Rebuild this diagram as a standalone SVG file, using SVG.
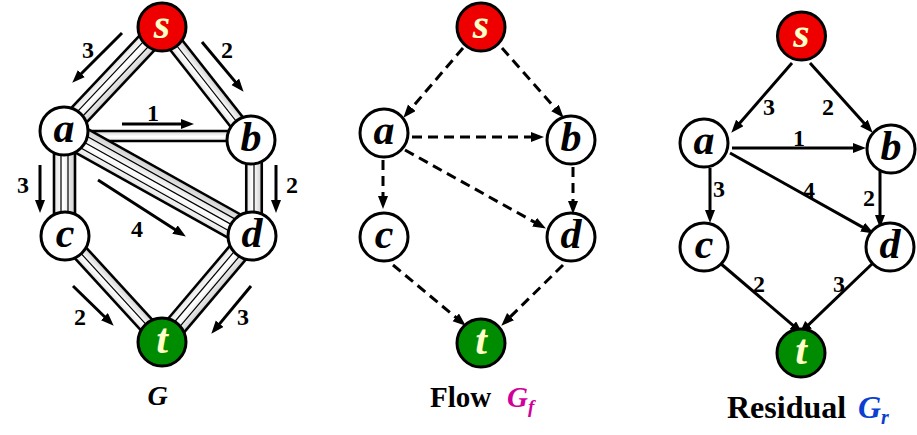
<svg xmlns="http://www.w3.org/2000/svg" width="917" height="435" viewBox="0 0 917 435">
<defs>
<linearGradient id="pipeGrad" x1="0" y1="0" x2="0" y2="1">
<stop offset="0" stop-color="#cfcfcf"/>
<stop offset="0.55" stop-color="#ffffff"/>
<stop offset="1" stop-color="#e4e4e4"/>
</linearGradient>
<marker id="ah" markerUnits="userSpaceOnUse" markerWidth="13" markerHeight="11" refX="6" refY="5" orient="auto">
<path d="M0,0 L13,5 L0,10 z" fill="#000"/>
</marker>
</defs>
<style>
.node circle{stroke:#000;stroke-width:3;fill:#fff}
.node.src circle{fill:#ee0000}
.node.snk circle{fill:#008c00}
.node text{font-family:"Liberation Serif","Times New Roman",serif;font-weight:bold;font-style:italic;font-size:42px;text-anchor:middle;fill:#000}
.node.src text,.node.snk text{fill:#ffffc8}
.pipe rect{fill:url(#pipeGrad);stroke:none}
.pipe .b{stroke:#000;stroke-width:2.6}
.pipe .l{stroke:#000;stroke-width:1.2}
.arr{stroke:#000;stroke-width:3;fill:none;marker-end:url(#ah)}
.dash{stroke-dasharray:10 6}
.num{font-family:"Liberation Serif","Times New Roman",serif;font-weight:bold;font-size:24px;text-anchor:middle;fill:#000}
.title{font-family:"Liberation Serif","Times New Roman",serif;font-weight:bold}
.it{font-style:italic}
.blk{fill:#000}
.mag{fill:#d0009a}
.blu{fill:#0a3fd0}
</style>

<!-- Panel G: pipes -->
<g id="pipes-G">
<g class="pipe" transform="translate(162,27) rotate(133.3)">
<rect x="0" y="-10.5" width="143" height="21"/>
<line class="b" x1="0" y1="-10.5" x2="143" y2="-10.5"/><line class="b" x1="0" y1="10.5" x2="143" y2="10.5"/>
<line class="l" x1="0" y1="-3.5" x2="143" y2="-3.5"/><line class="l" x1="0" y1="3.5" x2="143" y2="3.5"/>
</g>
<g class="pipe" transform="translate(162,27) rotate(51.8)">
<rect x="0" y="-7.75" width="144" height="15.5"/>
<line class="b" x1="0" y1="-7.75" x2="144" y2="-7.75"/><line class="b" x1="0" y1="7.75" x2="144" y2="7.75"/>
<line class="l" x1="0" y1="0" x2="144" y2="0"/>
</g>
<g class="pipe" transform="translate(64,136)">
<rect x="0" y="-5" width="187" height="10"/>
<line class="b" x1="0" y1="-5" x2="187" y2="-5"/><line class="b" x1="0" y1="5" x2="187" y2="5"/>
</g>
<g class="pipe" transform="translate(64.5,131) rotate(90)">
<rect x="0" y="-10.5" width="105" height="21"/>
<line class="b" x1="0" y1="-10.5" x2="105" y2="-10.5"/><line class="b" x1="0" y1="10.5" x2="105" y2="10.5"/>
<line class="l" x1="0" y1="-3.5" x2="105" y2="-3.5"/><line class="l" x1="0" y1="3.5" x2="105" y2="3.5"/>
</g>
<g class="pipe" transform="translate(254,140) rotate(90)">
<rect x="0" y="-7.75" width="96" height="15.5"/>
<line class="b" x1="0" y1="-7.75" x2="96" y2="-7.75"/><line class="b" x1="0" y1="7.75" x2="96" y2="7.75"/>
<line class="l" x1="0" y1="0" x2="96" y2="0"/>
</g>
<g class="pipe" transform="translate(64,131) rotate(29.2)">
<rect x="0" y="-13.25" width="215" height="26.5"/>
<line class="b" x1="0" y1="-13.25" x2="215" y2="-13.25"/><line class="b" x1="0" y1="13.25" x2="215" y2="13.25"/>
<line class="l" x1="0" y1="-6.6" x2="215" y2="-6.6"/><line class="l" x1="0" y1="0" x2="215" y2="0"/><line class="l" x1="0" y1="6.6" x2="215" y2="6.6"/>
</g>
<g class="pipe" transform="translate(65,236) rotate(47.5)">
<rect x="0" y="-7.75" width="144" height="15.5"/>
<line class="b" x1="0" y1="-7.75" x2="144" y2="-7.75"/><line class="b" x1="0" y1="7.75" x2="144" y2="7.75"/>
<line class="l" x1="0" y1="0" x2="144" y2="0"/>
</g>
<g class="pipe" transform="translate(252,236) rotate(130.3)">
<rect x="0" y="-10.5" width="139" height="21"/>
<line class="b" x1="0" y1="-10.5" x2="139" y2="-10.5"/><line class="b" x1="0" y1="10.5" x2="139" y2="10.5"/>
<line class="l" x1="0" y1="-3.5" x2="139" y2="-3.5"/><line class="l" x1="0" y1="3.5" x2="139" y2="3.5"/>
</g>
</g>

<!-- Panel G: flow arrows -->
<g id="connectors-G">
<line class="arr" x1="122" y1="33" x2="77.2" y2="77.8"/>
<line class="arr" x1="202" y1="42" x2="239.1" y2="86.4"/>
<line class="arr" x1="122" y1="124" x2="187" y2="124"/>
<line class="arr" x1="40" y1="165" x2="40" y2="206"/>
<line class="arr" x1="276" y1="165" x2="276" y2="206"/>
<line class="arr" x1="98" y1="180" x2="180" y2="232.8"/>
<line class="arr" x1="73" y1="286" x2="108.7" y2="320.8"/>
<line class="arr" x1="251" y1="286" x2="215.8" y2="328.4"/>
<text class="num" x="88" y="58">3</text>
<text class="num" x="227" y="58">2</text>
<text class="num" x="153" y="121">1</text>
<text class="num" x="23" y="193">3</text>
<text class="num" x="292" y="193">2</text>
<text class="num" x="137" y="237">4</text>
<text class="num" x="80" y="325">2</text>
<text class="num" x="243" y="325">3</text>
</g>

<g id="G-s" class="node src"><circle cx="162" cy="27" r="24"/><text x="162" y="38">s</text></g>
<g id="G-a" class="node"><circle cx="64" cy="131" r="24"/><text x="64" y="142">a</text></g>
<g id="G-b" class="node"><circle cx="251" cy="140" r="24"/><text x="251" y="151">b</text></g>
<g id="G-c" class="node"><circle cx="65" cy="236" r="24"/><text x="65" y="247">c</text></g>
<g id="G-d" class="node"><circle cx="252" cy="236" r="24"/><text x="252" y="247">d</text></g>
<g id="G-t" class="node snk"><circle cx="162" cy="342" r="24"/><text x="162" y="353">t</text></g>
<text class="title it blk" x="157.5" y="405" style="font-size:28px" text-anchor="middle">G</text>

<!-- Panel Flow -->
<g id="connectors-F">
<line class="arr dash" x1="463" y1="48" x2="407.9" y2="112.4"/>
<line class="arr dash" x1="502" y1="48" x2="559" y2="112.5"/>
<line class="arr dash" x1="412" y1="137" x2="537" y2="137"/>
<line class="arr dash" x1="383" y1="160" x2="383" y2="202"/>
<line class="arr dash" x1="405" y1="150" x2="539.8" y2="225.1"/>
<line class="arr dash" x1="573" y1="167" x2="573" y2="207"/>
<line class="arr dash" x1="393" y1="265" x2="460.4" y2="321.2"/>
<line class="arr dash" x1="563" y1="265" x2="506.3" y2="320.8"/>
</g>
<g id="F-s" class="node src"><circle cx="481" cy="27" r="24"/><text x="481" y="38">s</text></g>
<g id="F-a" class="node"><circle cx="384" cy="133" r="24"/><text x="384" y="144">a</text></g>
<g id="F-b" class="node"><circle cx="571" cy="140" r="24"/><text x="571" y="151">b</text></g>
<g id="F-c" class="node"><circle cx="384" cy="237" r="24"/><text x="384" y="248">c</text></g>
<g id="F-d" class="node"><circle cx="571" cy="237" r="24"/><text x="571" y="248">d</text></g>
<g id="F-t" class="node snk"><circle cx="481" cy="343" r="24"/><text x="481" y="354">t</text></g>
<text class="title blk" x="430" y="407" style="font-size:29px">Flow</text>
<text class="title it mag" x="507" y="407" style="font-size:29px">G</text>
<text class="title it mag" x="528" y="413" style="font-size:19px">f</text>

<!-- Panel Residual -->
<g id="connectors-R">
<line class="arr" x1="792" y1="63" x2="735.9" y2="127.5"/>
<line class="arr" x1="810" y1="63" x2="868" y2="127.5"/>
<line class="arr" x1="732" y1="148" x2="859" y2="148"/>
<line class="arr" x1="710" y1="168" x2="710" y2="216"/>
<line class="arr" x1="730" y1="153" x2="867.8" y2="230.1"/>
<line class="arr" x1="880" y1="168" x2="880" y2="221"/>
<line class="arr" x1="720" y1="263" x2="797.4" y2="329.1"/>
<line class="arr" x1="873" y1="263" x2="804.3" y2="328.8"/>
<text class="num" x="769" y="115">3</text>
<text class="num" x="828" y="115">2</text>
<text class="num" x="799" y="146">1</text>
<text class="num" x="719" y="197">3</text>
<text class="num" x="809" y="198">4</text>
<text class="num" x="869" y="206">2</text>
<text class="num" x="759" y="292">2</text>
<text class="num" x="839" y="292">3</text>
</g>
<g id="R-s" class="node src"><circle cx="801.5" cy="36" r="24"/><text x="801.5" y="47">s</text></g>
<g id="R-a" class="node"><circle cx="704" cy="143" r="24"/><text x="704" y="154">a</text></g>
<g id="R-b" class="node"><circle cx="891" cy="149" r="24"/><text x="891" y="160">b</text></g>
<g id="R-c" class="node"><circle cx="704" cy="247" r="24"/><text x="704" y="258">c</text></g>
<g id="R-d" class="node"><circle cx="890" cy="247" r="24"/><text x="890" y="258">d</text></g>
<g id="R-t" class="node snk"><circle cx="801" cy="353" r="24"/><text x="801" y="364">t</text></g>
<text class="title blk" x="727" y="418" style="font-size:32px">Residual</text>
<text class="title it blu" x="858" y="418" style="font-size:32px">G</text>
<text class="title it blu" x="881" y="424" style="font-size:20px">r</text>
</svg>
